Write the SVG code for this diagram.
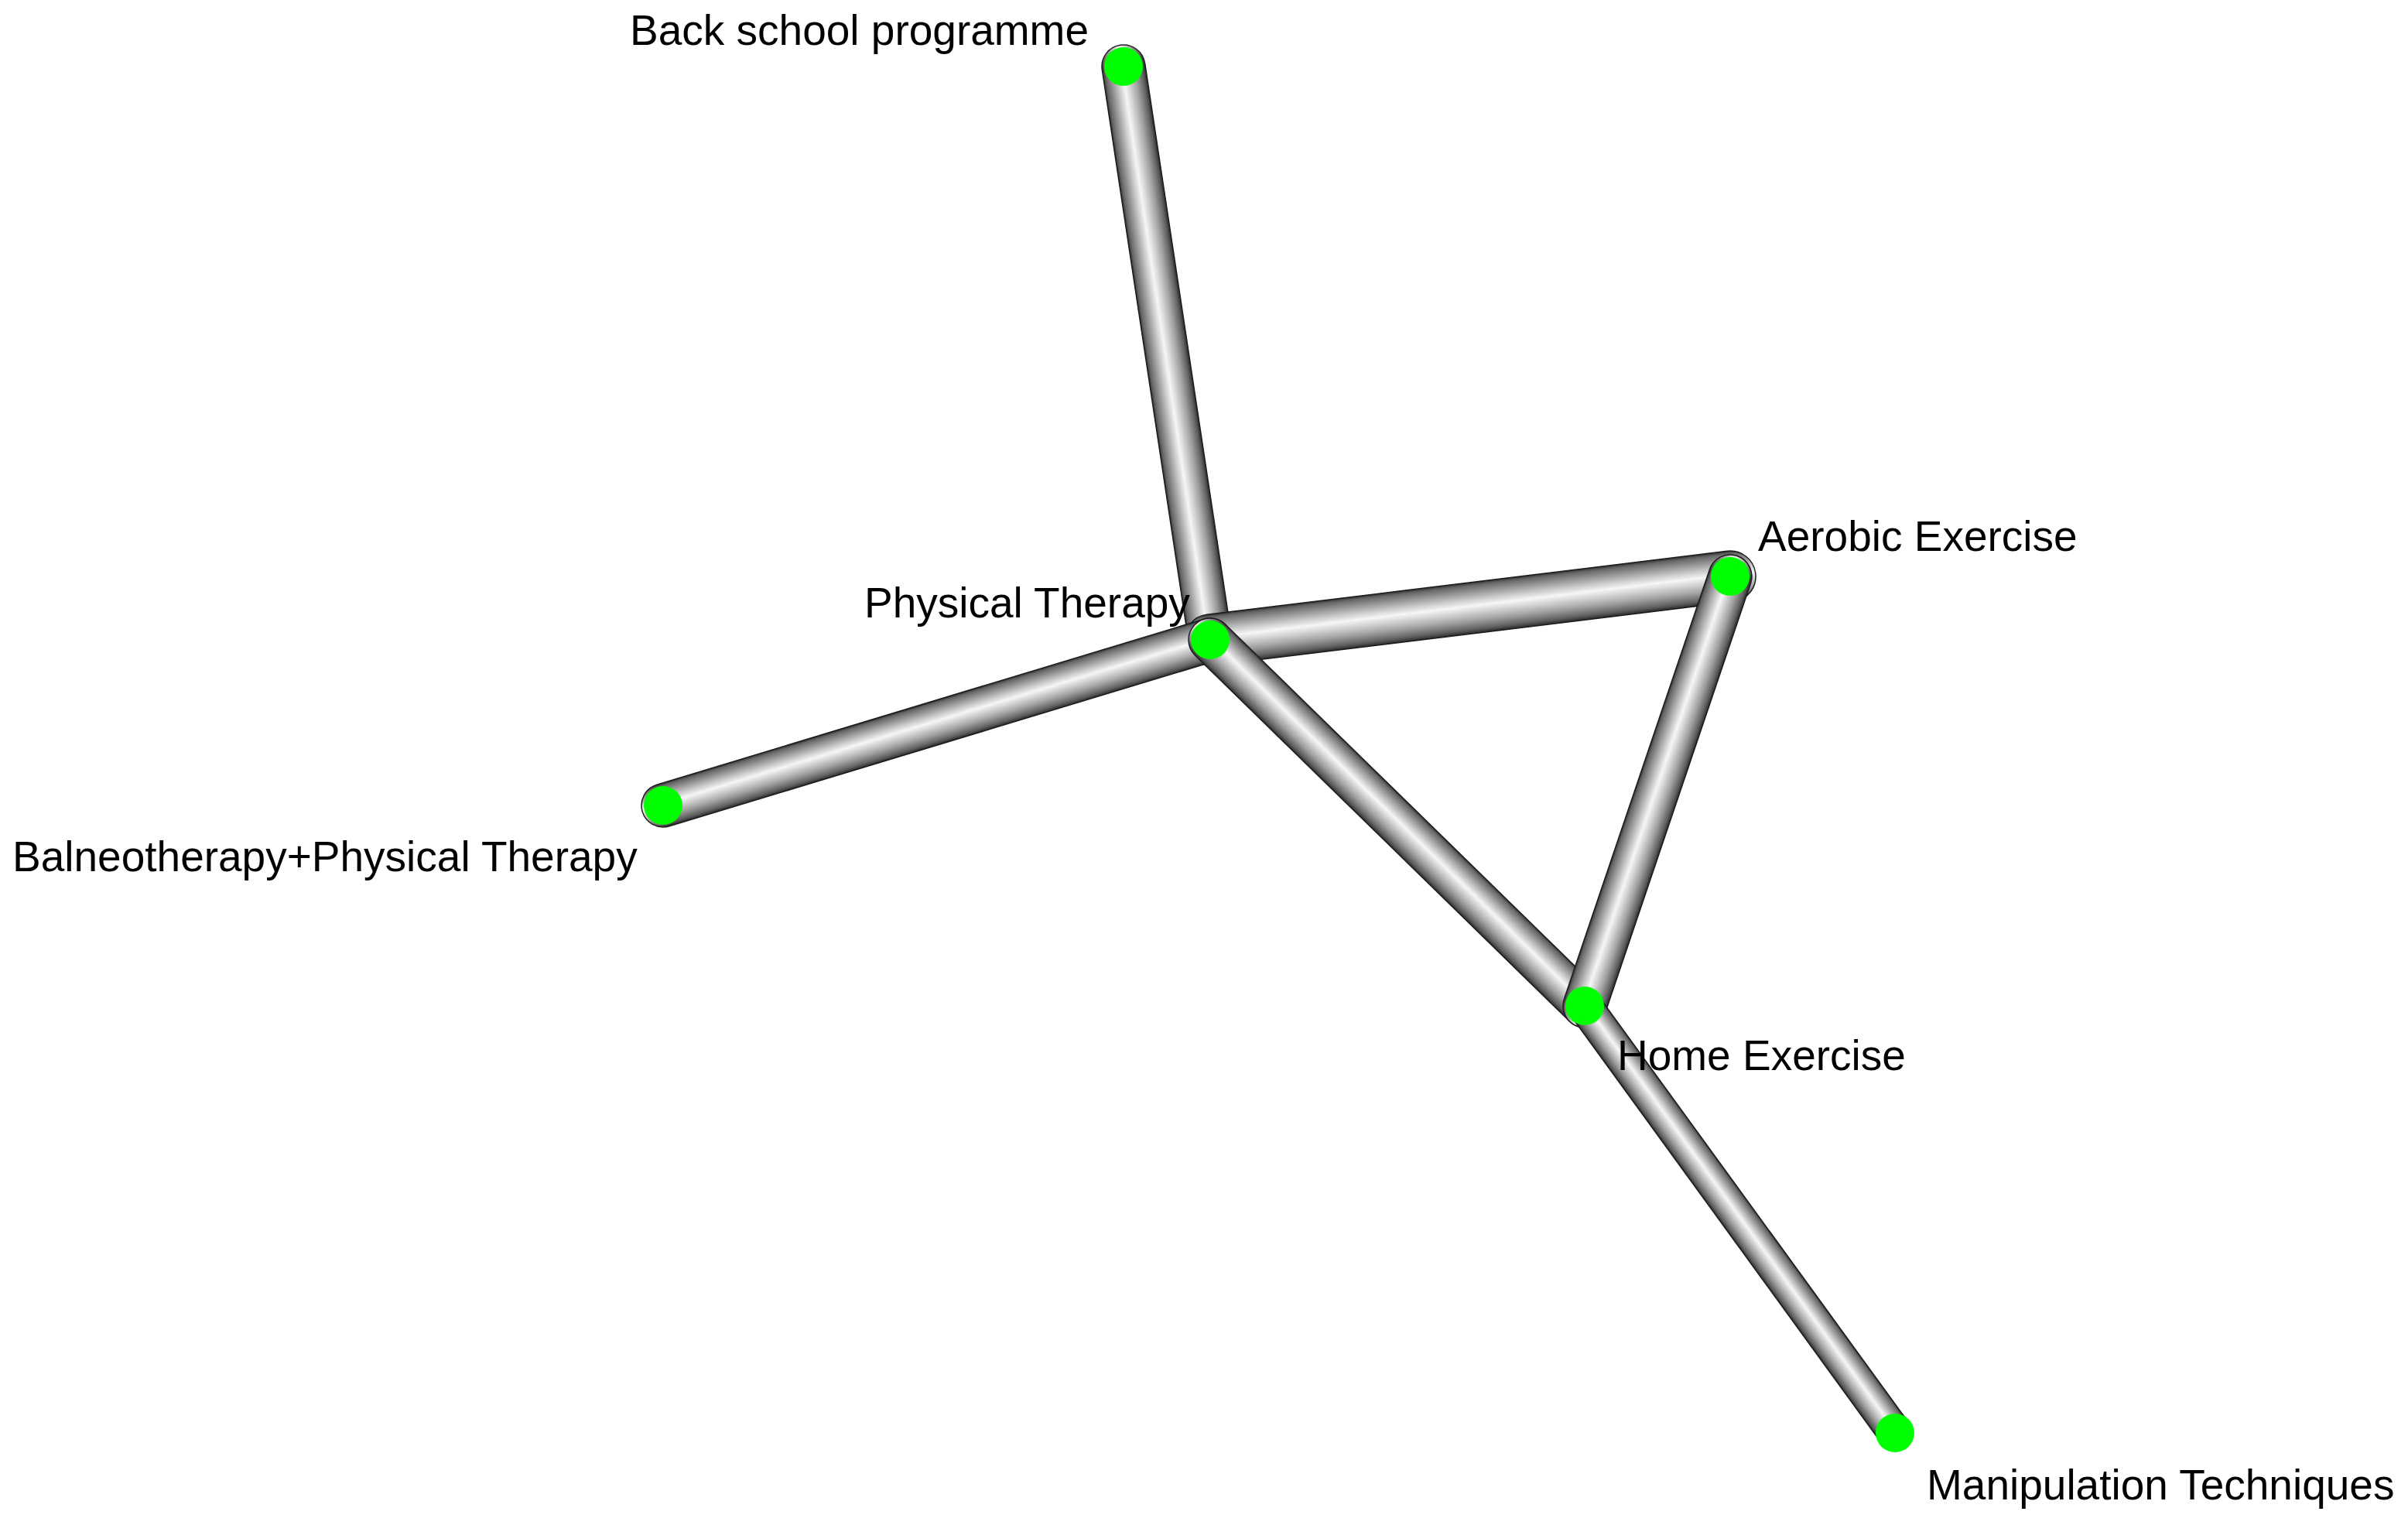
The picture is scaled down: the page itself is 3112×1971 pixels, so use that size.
<svg xmlns="http://www.w3.org/2000/svg" width="3112" height="1971" viewBox="0 0 3112 1971">
<style>
.bg{fill:#ffffff}
.tube{fill:url(#tubeGrad);stroke:#1c1c1c;stroke-width:1.5}
.node{fill:#00ff00}
.lbl{font-family:"Liberation Sans",Arial,sans-serif;font-size:55px;fill:#000000}
</style>
<defs>
<linearGradient id="tubeGrad" x1="0" y1="0" x2="0" y2="1">
<stop offset="0" stop-color="#303030"/>
<stop offset="0.06" stop-color="#666666"/>
<stop offset="0.2" stop-color="#9a9a9a"/>
<stop offset="0.35" stop-color="#d0d0d0"/>
<stop offset="0.46" stop-color="#f6f6f6"/>
<stop offset="0.56" stop-color="#dadada"/>
<stop offset="0.75" stop-color="#a0a0a0"/>
<stop offset="0.92" stop-color="#5e5e5e"/>
<stop offset="1" stop-color="#2a2a2a"/>
</linearGradient>
</defs>
<rect class="bg" x="0" y="0" width="3112" height="1971"/>
<g id="connectors">
<g id="e-pt-bs" transform="translate(1564,827) rotate(-98.595)"><rect class="tube" x="-28" y="-28" width="805.4" height="56" rx="28"/></g>
<g id="e-pt-ae" transform="translate(1564,827) rotate(-6.957)"><rect class="tube" x="-33" y="-33" width="743" height="66" rx="33"/></g>
<g id="e-ba-pt" transform="translate(857,1041) rotate(-16.84)"><rect class="tube" x="-28" y="-28" width="794.7" height="56" rx="28"/></g>
<g id="e-pt-he" transform="translate(1564,827) rotate(44.342)"><rect class="tube" x="-28" y="-28" width="732.75" height="56" rx="28"/></g>
<g id="e-he-ae" transform="translate(2048,1300) rotate(-71.29)"><rect class="tube" x="-28" y="-28" width="642" height="56" rx="28"/></g>
<g id="e-he-mt" transform="translate(2048,1300) rotate(54.0)"><rect class="tube" x="-22" y="-22" width="726.3" height="44" rx="22"/></g>
</g>
<g id="node-backschool"><circle class="node" cx="1452" cy="86" r="25"/><text class="lbl" x="814" y="58">Back school programme</text></g>
<g id="node-physical"><circle class="node" cx="1564" cy="827" r="25"/><text class="lbl" x="1117" y="798">Physical Therapy</text></g>
<g id="node-aerobic"><circle class="node" cx="2236" cy="745" r="25"/><text class="lbl" x="2272" y="712">Aerobic Exercise</text></g>
<g id="node-balneo"><circle class="node" cx="857" cy="1041" r="25"/><text class="lbl" x="16" y="1126">Balneotherapy+Physical Therapy</text></g>
<g id="node-home"><circle class="node" cx="2048" cy="1300" r="25"/><text class="lbl" x="2090" y="1383">Home Exercise</text></g>
<g id="node-manip"><circle class="node" cx="2449" cy="1852" r="25"/><text class="lbl" x="2490" y="1938">Manipulation Techniques</text></g>
</svg>
